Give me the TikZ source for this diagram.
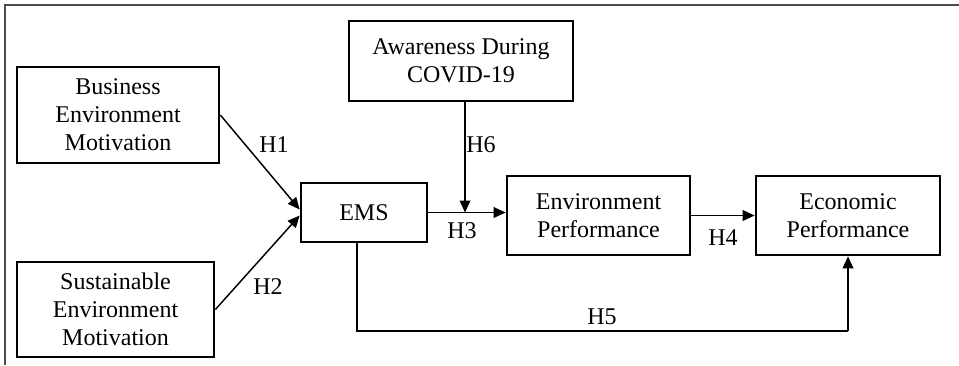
\documentclass[tikz,border=0pt]{standalone}
\usepackage{fontspec}
\setmainfont{Liberation Serif}
\usetikzlibrary{arrows.meta,calc}
\begin{document}
\begin{tikzpicture}[x=0.75pt,y=-0.75pt,
  box/.style={draw=black,line width=2pt,align=center,inner sep=0pt,
    font=\fontsize{18}{21}\selectfont},
  link/.style={draw=black,line width=1.1pt,-{Triangle[length=9pt,width=8pt]}},
  plain/.style={draw=black,line width=1.1pt},
  lbl/.style={font=\fontsize{18}{21}\selectfont,inner sep=0pt},
  frame/.style={draw=black!70,line width=1.6pt}]
\useasboundingbox (0,0) rectangle (959,365);

% outer frame (top and left edges only)
\draw[frame] (5,365) -- (5,5) -- (959,5);

% constructs
\node[box,minimum width=202*0.75pt,minimum height=96*0.75pt] (bem) at (118,115)
  {Business\\Environment\\Motivation};
\node[box,minimum width=197*0.75pt,minimum height=95*0.75pt] (sem) at (115.5,309.5)
  {Sustainable\\Environment\\Motivation};
\node[box,minimum width=126*0.75pt,minimum height=59*0.75pt] (ems) at (364,212.5)
  {EMS};
\node[box,minimum width=224*0.75pt,minimum height=80*0.75pt] (aw) at (461,61)
  {Awareness During\\COVID-19};
\node[box,minimum width=183*0.75pt,minimum height=79*0.75pt] (ep) at (598.5,215.5)
  {Environment\\Performance};
\node[box,minimum width=184*0.75pt,minimum height=79*0.75pt] (ecp) at (848,215.5)
  {Economic\\Performance};

% junction points
\coordinate (j6) at (465,212.5);
\coordinate (c5) at (357,331);

% paths
\draw[link] (bem.east) -- ($(ems.west)+(0,-3)$);
\draw[link] (sem.east) -- ($(ems.west)+(0,3)$);
\draw[link] (ems.east) -- (ems.east -| ep.west);
\draw[link] (aw.south -| j6) -- (j6);
\draw[link] (ep.east) -- (ecp.west);
\draw[plain] (ems.south -| c5) -- (c5) -- (c5 -| ecp.south);
\draw[link] (c5 -| ecp.south) -- (ecp.south);

% hypothesis labels
\node[lbl] (h1) at (274,145) {H1};
\node[lbl] (h2) at (268,287) {H2};
\node[lbl] (h6) at (481,145) {H6};
\node[lbl] (h3) at (462,231) {H3};
\node[lbl] (h4) at (723,238) {H4};
\node[lbl] (h5) at (602,317) {H5};
\end{tikzpicture}
\end{document}
